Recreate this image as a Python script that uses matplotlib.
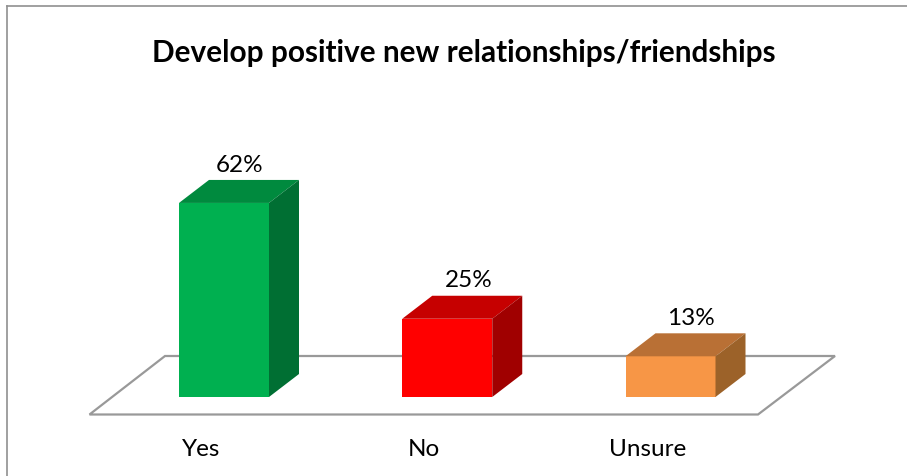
import matplotlib
matplotlib.use("Agg")
import matplotlib.pyplot as plt
from matplotlib.lines import Line2D
from matplotlib.patches import Polygon

categories = ["Yes", "No", "Unsure"]
values = [62, 25, 13]
front_colors = ["#00B050", "#FF0000", "#F79646"]
top_colors = ["#008A3E", "#C60000", "#B97035"]
side_colors = ["#006F33", "#A00000", "#9C6229"]

W, H = 907, 477
plt.rcParams["font.family"] = ["Lato", "DejaVu Sans"]

fig = plt.figure(figsize=(W / 100, H / 100), dpi=100)
ax = fig.add_axes([0, 0, 1, 1])

# axes fill the figure: 1 category = 223.25 px, 1 percent = 3.13 px
x_px = 223.25
y_px = 3.13
base = 398
ax.set_xlim(-224 / x_px, (W - 224) / x_px)
ax.set_ylim((base - H) / y_px, base / y_px)
ax.axis("off")

bar_w = 90 / x_px
dx = 30 / x_px
dy = 23 / y_px

# floor of the 3d chart
floor_front = -17.5 / y_px
floor_back = 41 / y_px
floor = [(-134.5 / x_px, floor_front), (534 / x_px, floor_front),
         (611 / x_px, floor_back), (-59 / x_px, floor_back)]
ax.add_patch(Polygon(floor, closed=True, facecolor="white", edgecolor="#999999", lw=1.6, zorder=1))

positions = range(len(categories))
ax.bar(positions, values, width=bar_w, color=front_colors, zorder=3)

# the value labels drift right of the bars in the original
label_shift = [16, 21, 20]

for i, v in enumerate(values):
    l = i - bar_w / 2
    r = i + bar_w / 2
    ax.add_patch(Polygon([(l, v), (r, v), (r + dx, v + dy), (l + dx, v + dy)],
                         facecolor=top_colors[i], edgecolor="none", zorder=3))
    ax.add_patch(Polygon([(r, 0), (r + dx, dy), (r + dx, v + dy), (r, v)],
                         facecolor=side_colors[i], edgecolor="none", zorder=3))
    ax.text(i + label_shift[i] / x_px, v + dy + 1.7, f"{v}%", ha="center", va="bottom", fontsize=17.5, color="black")
    ax.text(i - 23 / x_px, -52 / y_px, categories[i], ha="center", va="center", fontsize=17.5, color="black")

fig.text(464 / W, 1 - 53 / H, "Develop positive new relationships/friendships",
         ha="center", va="center", fontsize=21.4, fontweight="bold", color="black")

# chart border, only top and left show in the crop
fig.add_artist(Line2D([7 / W, 7 / W], [0, 1 - 7 / H], color="#909090", lw=1.2))
fig.add_artist(Line2D([7 / W, 1], [1 - 7 / H, 1 - 7 / H], color="#909090", lw=1.2))

fig.savefig("out.png", dpi=100)
